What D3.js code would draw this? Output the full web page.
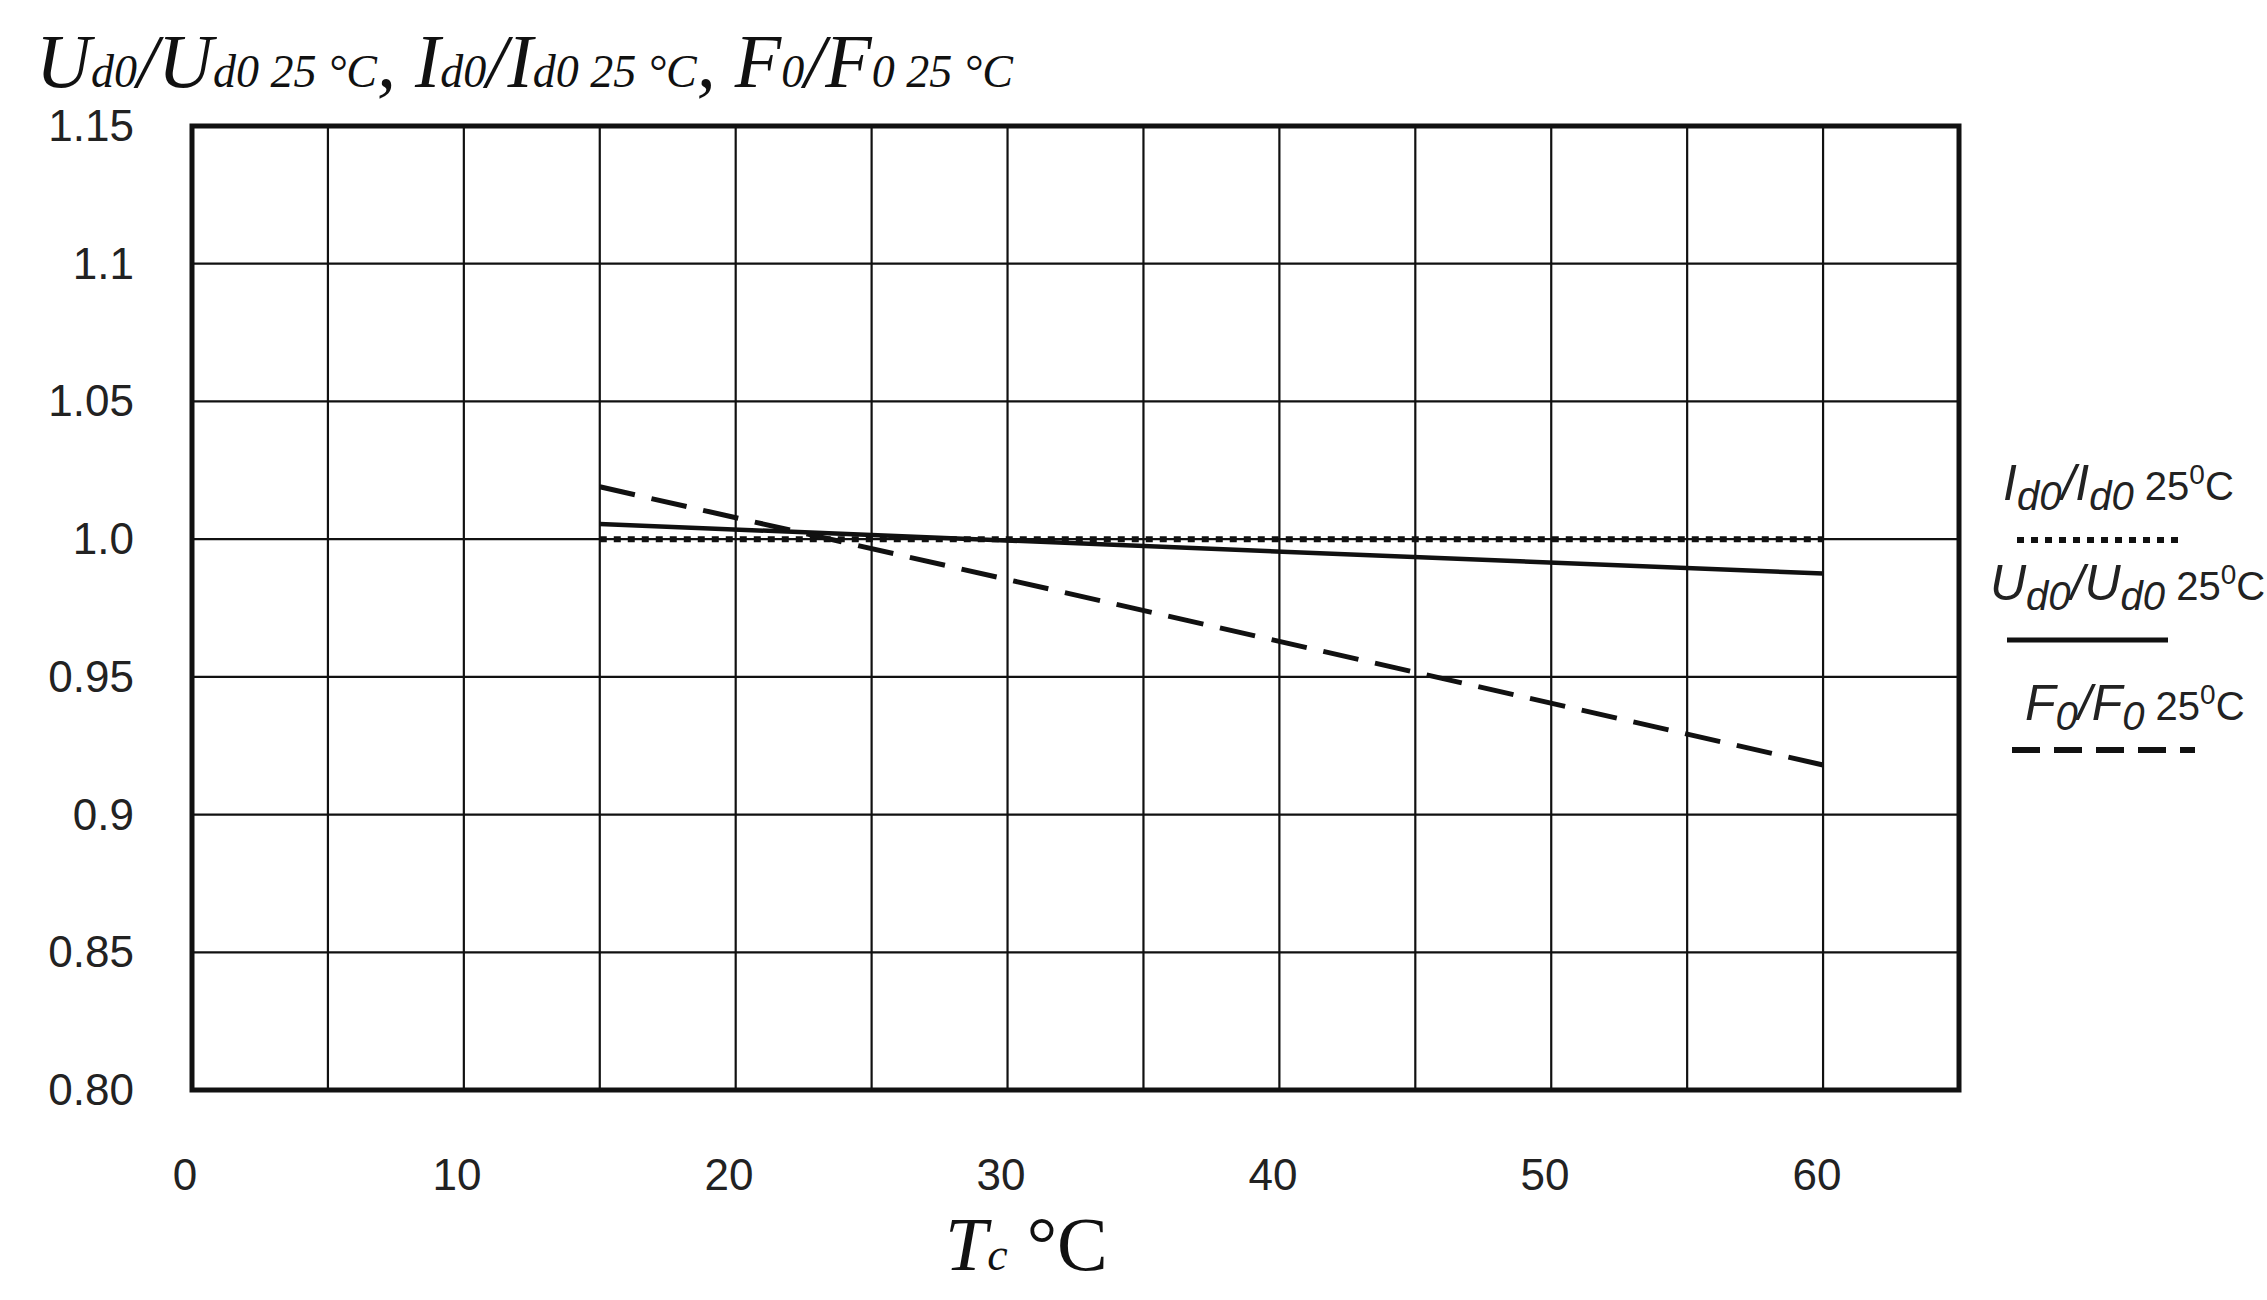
<!DOCTYPE html>
<html><head><meta charset="utf-8">
<script src="https://cdn.jsdelivr.net/npm/d3@7"></script>
<style>body{margin:0;background:#fff}</style>
</head><body>
<svg width="2267" height="1300"></svg>
<script>
// data
var temps = [15, 60];
var idRatio = [1.0, 1.0];
var udRatio = [1.0055, 0.9875];
var fRatio = [1.019, 0.918];
var xTicks = [0, 10, 20, 30, 40, 50, 60];
var yTicks = [0.80, 0.85, 0.9, 0.95, 1.0, 1.05, 1.1, 1.15];
var yLabels = ["0.80", "0.85", "0.9", "0.95", "1.0", "1.05", "1.1", "1.15"];

var svg = d3.select('svg');
var pLeft = 192, pRight = 1959, pTop = 126, pBottom = 1090;
var x = d3.scaleLinear().domain([0, 65]).range([pLeft, pRight]);
var y = d3.scaleLinear().domain([0.8, 1.15]).range([pBottom, pTop]);

// grid
svg.append('g').selectAll('line').data(d3.range(5, 65, 5)).enter().append('line')
    .attr('x1', x).attr('x2', x).attr('y1', pTop).attr('y2', pBottom)
    .style('stroke', '#111').style('stroke-width', 2.2);
svg.append('g').selectAll('line').data(yTicks.slice(1, -1)).enter().append('line')
    .attr('x1', pLeft).attr('x2', pRight).attr('y1', y).attr('y2', y)
    .style('stroke', '#111').style('stroke-width', 2.2);
svg.append('rect').attr('x', pLeft).attr('y', pTop).attr('width', pRight - pLeft).attr('height', pBottom - pTop)
    .style('fill', 'none').style('stroke', '#111').style('stroke-width', 5);

// tick labels
var tickFont = 'Liberation Sans, Arial, sans-serif';
svg.append('g').selectAll('text').data(yTicks).enter().append('text')
    .attr('x', 134).attr('y', function(d) {return y(d) + 15;})
    .attr('text-anchor', 'end').style('font-family', tickFont).style('font-size', '44px').style('fill', '#222')
    .text(function(d, i) {return yLabels[i];});
svg.append('g').selectAll('text').data(xTicks).enter().append('text')
    .attr('x', function(d) {return 185 + d * 27.2;}).attr('y', 1190)
    .attr('text-anchor', 'middle').style('font-family', tickFont).style('font-size', '44px').style('fill', '#222')
    .text(function(d) {return d;});

// curves
var line = d3.line().x(function(d) {return x(d[0]);}).y(function(d) {return y(d[1]);});
function series(vals) {return temps.map(function(t, i) {return [t, vals[i]];});}
svg.append('path').attr('d', line(series(udRatio))).style('fill', 'none').style('stroke', '#111').style('stroke-width', 4.5);
svg.append('path').attr('d', line(series(idRatio))).style('fill', 'none').style('stroke', '#111').style('stroke-width', 6).style('stroke-dasharray', '7,7');
svg.append('path').attr('d', line(series(fRatio))).style('fill', 'none').style('stroke', '#111').style('stroke-width', 5).style('stroke-dasharray', '36,17');

// axis titles
var serif = 'Liberation Serif, Times New Roman, serif';
var yt = svg.append('text').attr('x', 36).attr('y', 87).style('font-family', serif).style('font-style', 'italic').style('fill', '#111');
[['U', 0], ['d0', 2], ['/U', 0], ['d0 25 °C', 2], [', I', 0], ['d0', 2], ['/I', 0], ['d0 25 °C', 2], [', F', 0], ['0', 2], ['/F', 0], ['0 25 °C', 2]]
    .forEach(function(p) {yt.append('tspan').text(p[0]).style('font-size', p[1] ? '46px' : '76px');});

var xt = svg.append('text').attr('x', 945).attr('y', 1270).style('font-family', serif).style('fill', '#111');
xt.append('tspan').text('T').style('font-style', 'italic').style('font-size', '76px');
xt.append('tspan').text('c').style('font-style', 'italic').style('font-size', '46px');
xt.append('tspan').text(' °C').style('font-size', '76px');

// legend
var legend = [
    {parts: [['I'], ['d0', 1], ['/I', -1], ['d0', 1], [' 25', -1], ['0', 2], ['C', 3]], tx: 2003, ty: 500, ly: 540, x1: 2017, x2: 2180, dash: '7,7', w: 6},
    {parts: [['U'], ['d0', 1], ['/U', -1], ['d0', 1], [' 25', -1], ['0', 2], ['C', 3]], tx: 1990, ty: 600, ly: 640, x1: 2007, x2: 2168, dash: null, w: 5},
    {parts: [['F'], ['0', 1], ['/F', -1], ['0', 1], [' 25', -1], ['0', 2], ['C', 3]], tx: 2025, ty: 720, ly: 750, x1: 2012, x2: 2195, dash: '28,14', w: 6}
];
legend.forEach(function(l) {
    var t = svg.append('text').attr('x', l.tx).attr('y', l.ty)
        .style('font-family', tickFont).style('font-style', 'italic').style('fill', '#222');
    l.parts.forEach(function(p) {
        var s = t.append('tspan').text(p[0]);
        if (p[1] === 1) s.attr('dy', 10).style('font-size', '40px');
        else if (p[1] === -1) s.attr('dy', -10).style('font-size', '50px');
        else if (p[1] === 2) s.attr('dy', -16).style('font-size', '28px').style('font-style', 'normal');
        else if (p[1] === 3) s.attr('dy', 16).style('font-size', '40px').style('font-style', 'normal');
        else s.style('font-size', '50px');
        if (p[0] === ' 25') s.style('font-size', '40px').style('font-style', 'normal');
    });
    svg.append('line').attr('x1', l.x1).attr('x2', l.x2).attr('y1', l.ly).attr('y2', l.ly)
        .style('stroke', '#111').style('stroke-width', l.w).style('stroke-dasharray', l.dash);
});
</script>
</body></html>
